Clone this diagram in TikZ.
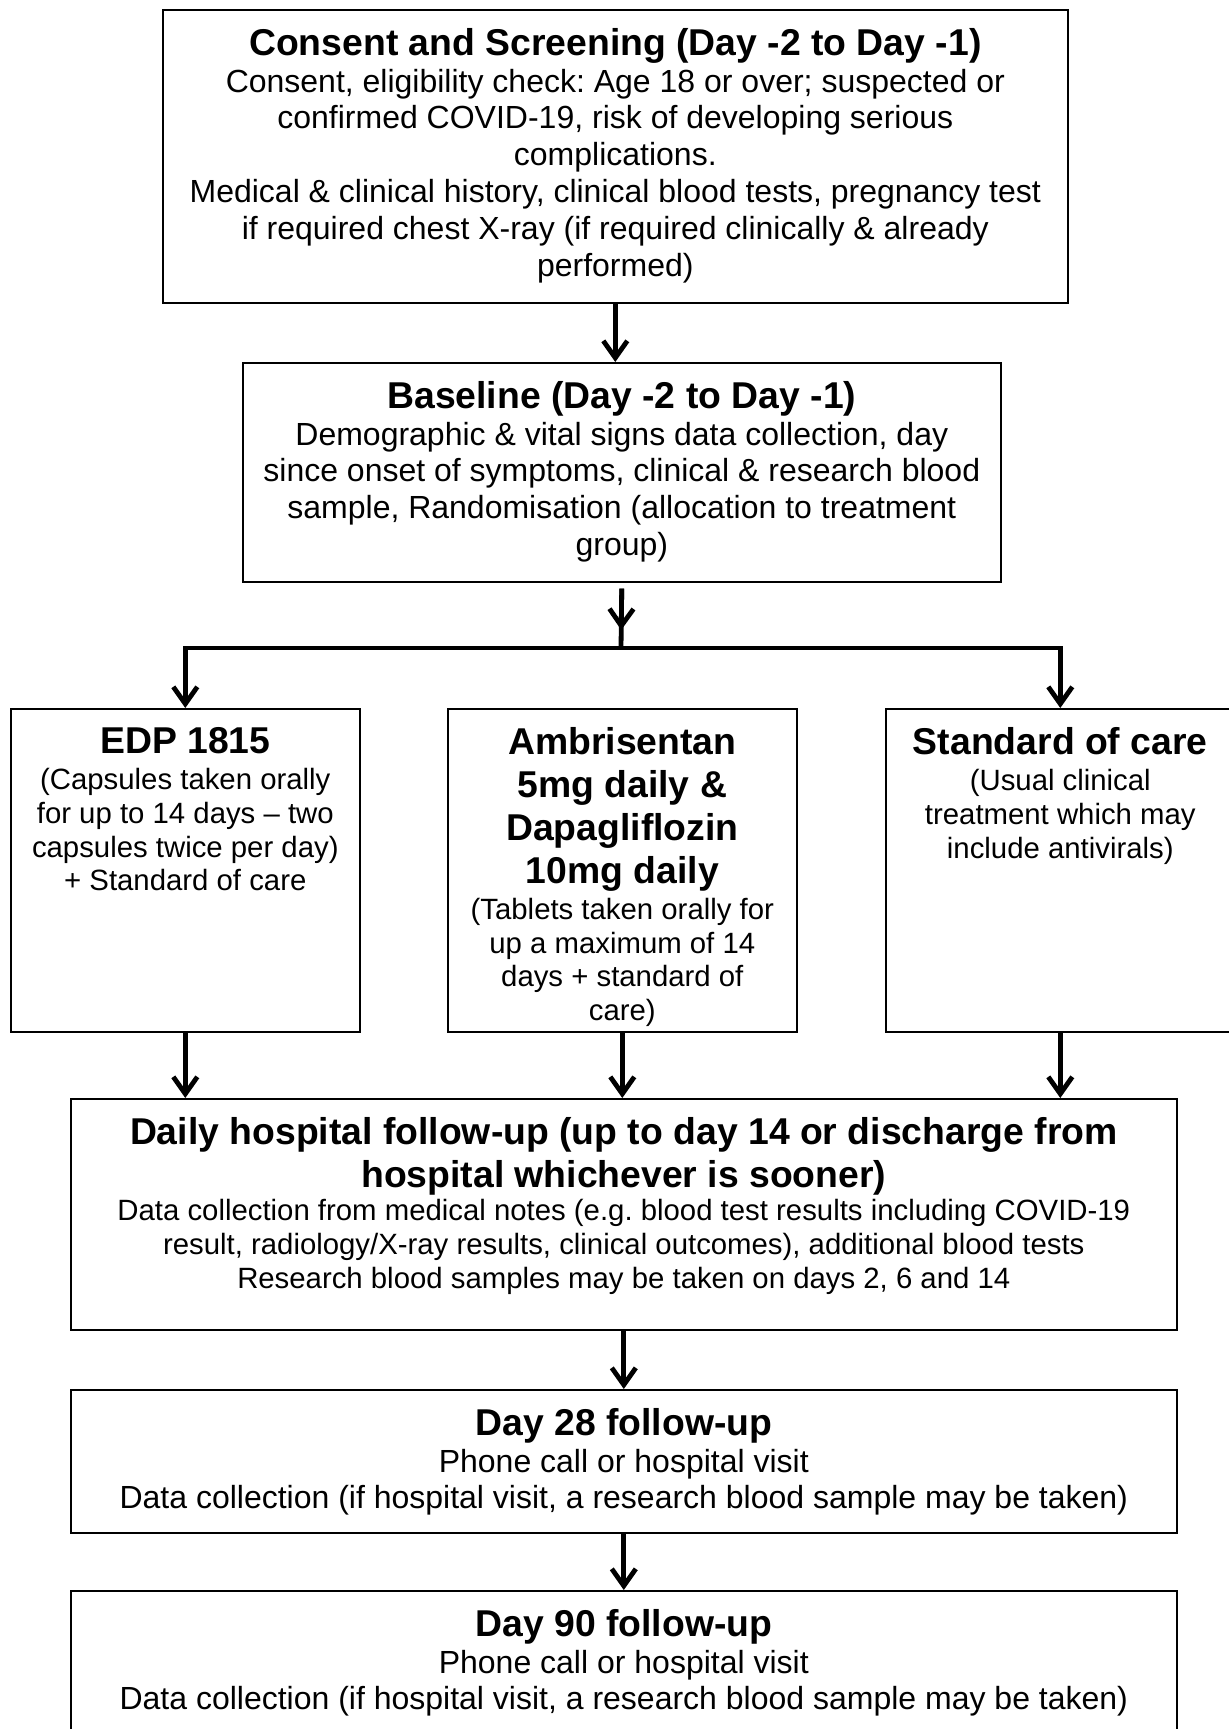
\documentclass[tikz,border=0pt]{standalone}
\usepackage{fontspec}
\setmainfont{Liberation Sans}
\usetikzlibrary{arrows.meta}
\frenchspacing

\def\smallbody{\fontsize{14.67}{16.87}\selectfont}
\newcommand\ttl[2][0pt]{{\fontsize{18.67}{21.47}\selectfont\bfseries #2\par}\vspace{#1}}
\newcommand\boxtext[3]{\parbox[t][#2][t]{#1}{\centering\fontsize{16}{18.4}\selectfont\vspace*{9.2pt}#3}}

\begin{document}
\begin{tikzpicture}[x=0.5pt,y=-0.5pt,
    box/.style={draw, line width=0.8pt, inner sep=0pt, anchor=north west},
    link/.style={line width=2.4pt},
    flow/.style={link, -{Straight Barb[length=8.5pt,width=12pt]}}]
\useasboundingbox (0,0) rectangle (1228,1729);
%\draw [help lines, step=100] (0,0) grid (1228,1729);
\node [box] (consent) at (162,9) {\boxtext{452.5pt}{146.5pt}{\ttl{Consent and Screening (Day -2 to Day -1)}
  Consent, eligibility check: Age 18 or over; suspected or\\
  confirmed COVID-19, risk of developing serious\\
  complications.\\
  Medical \& clinical history, clinical blood tests, pregnancy test\\
  if required chest X-ray (if required clinically \& already\\
  performed)}};
\node [box] (baseline) at (242,362) {\boxtext{379pt}{109.5pt}{\ttl{Baseline (Day -2 to Day -1)}
  Demographic \& vital signs data collection, day\\
  since onset of symptoms, clinical \& research blood\\
  sample, Randomisation (allocation to treatment\\
  group)}};
% three arms
\node [box] (edp) at (10,708) {\boxtext{174.5pt}{161.5pt}{\ttl[1.3pt]{EDP 1815}
  \smallbody (Capsules taken orally\\
  for up to 14 days -- two\\
  capsules twice per day)\\
  + Standard of care}};
\node [box] (ambri) at (447,708) {\boxtext{174.5pt}{161.5pt}{\ttl[1.3pt]{Ambrisentan\\ 5mg daily \&\\ Dapagliflozin\\ 10mg daily}
  \smallbody (Tablets taken orally for\\
  up a maximum of 14\\
  days + standard of\\
  care)}};
\node [box] (soc) at (885,708) {\boxtext{174.5pt}{161.5pt}{\ttl[1.3pt]{Standard of care}
  \smallbody (Usual clinical\\
  treatment which may\\
  include antivirals)}};
\node [box] (daily) at (70,1098) {\boxtext{553pt}{115.5pt}{\ttl{Daily hospital follow-up (up to day 14 or discharge from\\ hospital whichever is sooner)}
  \smallbody Data collection from medical notes (e.g. blood test results including COVID-19\\
  result, radiology/X-ray results, clinical outcomes), additional blood tests\\
  Research blood samples may be taken on days 2, 6 and 14}};
\node [box] (day28) at (70,1389) {\boxtext{553pt}{71.5pt}{\ttl{Day 28 follow-up}
  Phone call or hospital visit\\
  Data collection (if hospital visit, a research blood sample may be taken)}};
\node [box] (day90) at (70,1590) {\boxtext{553pt}{80pt}{\ttl{Day 90 follow-up}
  Phone call or hospital visit\\
  Data collection (if hospital visit, a research blood sample may be taken)}};
% connectors
\coordinate (split) at (621,648);
\draw [flow] (consent.south) -- (consent.south |- baseline.north);
\draw [link, shorten <=3pt] (baseline.south) -- (split);
\draw [flow, shorten <=3pt, shorten >=9pt] (baseline.south) -- (split);
\draw [flow] (split) -| (edp.north);
\draw [flow] (split) -| (soc.north);
\foreach \arm in {edp,ambri,soc}
  \draw [flow] (\arm.south) -- (\arm.south |- daily.north);
\draw [flow] (daily.south) -- (day28.north);
\draw [flow] (day28.south) -- (day90.north);
\end{tikzpicture}
\end{document}
